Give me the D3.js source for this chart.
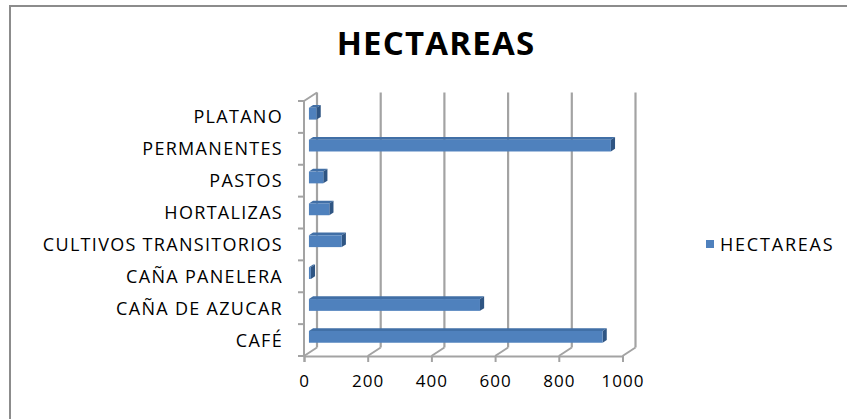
<!DOCTYPE html>
<html lang="es">
<head>
<meta charset="UTF-8">
<title>HECTAREAS</title>
<script src="https://d3js.org/d3.v7.min.js"></script>
<style>
  body { margin: 0; background: #fff; }
  text { font-family: "Open Sans", sans-serif; fill: #000; }
</style>
</head>
<body>
<script>
  // categories top to bottom as shown in the chart
  const categories = ['PLATANO', 'PERMANENTES', 'PASTOS', 'HORTALIZAS',
    'CULTIVOS TRANSITORIOS', 'CAÑA PANELERA', 'CAÑA DE AZUCAR', 'CAFÉ'];
  const hectareas = [24, 948, 45, 64, 103, 6, 537, 922];
  const xTicks = [0, 200, 400, 600, 800, 1000];
  const seriesName = 'HECTAREAS';

  const W = 847, H = 419;
  // 3d depth offset of the back wall
  const DX = 13, DY = -8.5;

  const svg = d3.select('body').append('svg')
    .attr('width', W)
    .attr('height', H);

  // chart frame (right/bottom edge run off the picture)
  svg.append('rect')
    .attr('x', 10).attr('y', 6)
    .attr('width', 900).attr('height', 500)
    .attr('fill', 'none')
    .attr('stroke', '#8c8c8c')
    .attr('stroke-width', 2);

  svg.append('text')
    .attr('x', 436)
    .attr('y', 55)
    .attr('text-anchor', 'middle')
    .style('font-size', '33px')
    .style('font-weight', 'bold')
    .style('letter-spacing', '1.2px')
    .text('HECTAREAS');

  const x = d3.scaleLinear().domain([0, 1000]).range([304, 622.5]);
  const y = d3.scaleBand().domain(categories).range([101, 356]);

  const gridColor = '#a3a3a3';
  const floorY = y.range()[1];
  const topY = y.range()[0];

  // back wall gridlines
  svg.append('g').selectAll('line')
    .data(xTicks)
    .enter().append('line')
    .attr('x1', d => x(d) + DX).attr('x2', d => x(d) + DX)
    .attr('y1', floorY + DY).attr('y2', topY + DY)
    .attr('stroke', gridColor).attr('stroke-width', 2.2);

  // floor lines
  svg.append('g').selectAll('line')
    .data(xTicks)
    .enter().append('line')
    .attr('x1', d => x(d)).attr('x2', d => x(d) + DX)
    .attr('y1', floorY).attr('y2', floorY + DY)
    .attr('stroke', gridColor).attr('stroke-width', 2);

  // left wall top edge
  svg.append('line')
    .attr('x1', x(0)).attr('y1', topY)
    .attr('x2', x(0) + DX).attr('y2', topY + DY)
    .attr('stroke', gridColor).attr('stroke-width', 2);

  // bottom axis
  const xAxis = d3.axisBottom(x).tickValues(xTicks).tickFormat(d3.format('d'))
    .tickSize(6).tickPadding(13);
  const gx = svg.append('g')
    .attr('transform', `translate(0,${floorY})`)
    .call(xAxis);
  gx.select('.domain').attr('stroke', gridColor).attr('stroke-width', 2);
  gx.selectAll('.tick line').attr('stroke', gridColor).attr('stroke-width', 2);
  gx.selectAll('.tick text')
    .style('font-family', '"Open Sans", sans-serif')
    .style('font-size', '17px')
    .style('letter-spacing', '1px')
    .attr('fill', '#000');

  // left axis with ticks at band edges
  svg.append('line')
    .attr('x1', x(0)).attr('x2', x(0))
    .attr('y1', topY).attr('y2', floorY)
    .attr('stroke', gridColor).attr('stroke-width', 2);
  const edges = categories.map(c => y(c)).concat([floorY]);
  svg.append('g').selectAll('line')
    .data(edges)
    .enter().append('line')
    .attr('x1', x(0) - 6).attr('x2', x(0))
    .attr('y1', d => d).attr('y2', d => d)
    .attr('stroke', gridColor).attr('stroke-width', 2);

  svg.append('g').selectAll('text')
    .data(categories)
    .enter().append('text')
    .attr('x', 283)
    .attr('y', d => y(d) + y.bandwidth() / 2)
    .attr('dy', '0.36em')
    .attr('text-anchor', 'end')
    .style('font-size', '18px')
    .style('letter-spacing', '1.3px')
    .text(d => d);

  // 3d bars
  const f0 = 0.38, f1 = 0.70;
  const barH = 11.8;
  const front = '#4f81bd', topCol = '#416fa6', side = '#2f5583';
  const data = categories.map((c, i) => ({ cat: c, v: hectareas[i] }));

  const bars = svg.append('g').selectAll('g')
    .data(data)
    .enter().append('g');

  bars.each(function (d) {
    const g = d3.select(this);
    const cy = y(d.cat) + y.bandwidth() / 2;
    const xl = x(0) + f0 * DX, xr = x(d.v) + f0 * DX;
    const yt = cy - barH / 2 + f0 * DY, yb = cy + barH / 2 + f0 * DY;
    const ddx = (f1 - f0) * DX, ddy = (f1 - f0) * DY;
    // top face
    g.append('path')
      .attr('d', `M${xl},${yt}L${xl + ddx},${yt + ddy}L${xr + ddx},${yt + ddy}L${xr},${yt}Z`)
      .attr('fill', topCol);
    // side face
    g.append('path')
      .attr('d', `M${xr},${yt}L${xr + ddx},${yt + ddy}L${xr + ddx},${yb + ddy}L${xr},${yb}Z`)
      .attr('fill', side);
    // front face
    g.append('rect')
      .attr('x', xl).attr('y', yt)
      .attr('width', xr - xl).attr('height', yb - yt)
      .attr('fill', front);
  });

  // legend
  svg.append('rect')
    .attr('x', 706).attr('y', 240)
    .attr('width', 8).attr('height', 8)
    .attr('fill', front);
  svg.append('text')
    .attr('x', 720).attr('y', 251)
    .style('font-size', '18px')
    .style('letter-spacing', '1.8px')
    .text(seriesName);
</script>
</body>
</html>
